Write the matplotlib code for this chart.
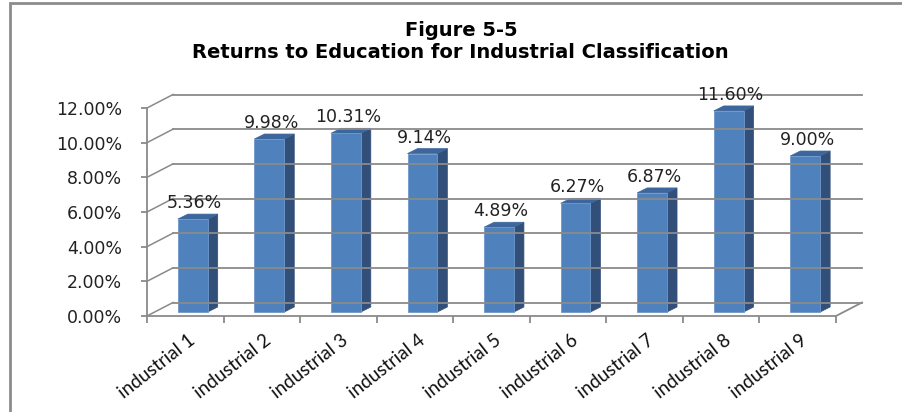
import numpy as np
import matplotlib.pyplot as plt
import matplotlib.transforms as mtransforms
from matplotlib.patches import Polygon, Rectangle
from matplotlib.ticker import FuncFormatter

# --- DATA ---
categories = ["industrial 1", "industrial 2", "industrial 3", "industrial 4", "industrial 5",
              "industrial 6", "industrial 7", "industrial 8", "industrial 9"]
returns = [0.0536, 0.0998, 0.1031, 0.0914, 0.0489, 0.0627, 0.0687, 0.1160, 0.0900]
y_ticks = [0.0, 0.02, 0.04, 0.06, 0.08, 0.10, 0.12]

# --- STYLE ---
front_col = "#4f81bd"
side_col = "#324f79"
top_col = "#3d679c"
grid_col = "#8a8a8a"
W, H, DPI = 902, 412, 100

# floor depth in pixels (back wall offset) and bar placement inside the floor
wall_dx, wall_dy = 26, 13.5
bar_dx, bar_dy = 7.5, 4
bar_depth_x, bar_depth_y = 10, 5
bar_width = 0.39

fig = plt.figure(figsize=(W / DPI, H / DPI), dpi=DPI)
ax = fig.add_axes([147 / W, (H - 316) / H, (836 - 147) / W, (316 - 108) / H])
ax.set_xlim(0, len(categories))
ax.set_ylim(0, 0.12)
ax.patch.set_visible(False)

# outer chart border
fig.patches.append(Rectangle((10 / W, -0.2), 1.2, 1.2 - 3 / H, transform=fig.transFigure,
                             fill=False, edgecolor="#8c8c8c", lw=2))

def px_offset(dx, dy):
    return mtransforms.ScaledTranslation(dx / DPI, dy / DPI, fig.dpi_scale_trans)

back = ax.transData + px_offset(wall_dx, wall_dy)
ident = mtransforms.IdentityTransform()

# back wall gridlines and the connectors to the front axis
n = len(categories)
for yv in y_ticks:
    ax.plot([0, n], [yv, yv], color=grid_col, lw=1.3, transform=back, clip_on=False)
    p0 = ax.transData.transform((0, yv))
    p1 = back.transform((0, yv))
    ax.plot([p0[0], p1[0]], [p0[1], p1[1]], color=grid_col, lw=1.1,
            transform=ident, clip_on=False)

# right edge of the floor
p0 = ax.transData.transform((n, 0))
p1 = back.transform((n, 0))
ax.plot([p0[0], p1[0]], [p0[1], p1[1]], color=grid_col, lw=1.3, transform=ident, clip_on=False)

# --- BARS ---
centers = np.arange(n) + 0.5
for c, v in zip(centers, returns):
    x0, y0 = ax.transData.transform((c - bar_width / 2, 0))
    x1, y1 = ax.transData.transform((c + bar_width / 2, v))
    x0 += bar_dx; x1 += bar_dx; y0 += bar_dy; y1 += bar_dy
    ddx, ddy = bar_depth_x, bar_depth_y
    front = Polygon([(x0, y0), (x1, y0), (x1, y1), (x0, y1)], closed=True,
                    facecolor=front_col, edgecolor="#6f98cc", lw=0.6, transform=ident)
    side = Polygon([(x1, y0), (x1 + ddx, y0 + ddy), (x1 + ddx, y1 + ddy), (x1, y1)], closed=True,
                   facecolor=side_col, edgecolor=side_col, lw=0.5, transform=ident)
    top = Polygon([(x0, y1), (x1, y1), (x1 + ddx, y1 + ddy), (x0 + ddx, y1 + ddy)], closed=True,
                  facecolor=top_col, edgecolor=top_col, lw=0.5, transform=ident)
    for p in (side, top, front):
        p.set_clip_on(False)
        ax.add_artist(p)
    ax.text((x0 + x1) / 2 + 2, y1 + ddy + 2, f"{v * 100:.2f}%", transform=ident,
            ha="center", va="bottom", fontsize=12.5, color="#222222", family="DejaVu Sans")

# --- AXES ---
for s in ("top", "right"):
    ax.spines[s].set_visible(False)
for s in ("left", "bottom"):
    ax.spines[s].set_color(grid_col)
    ax.spines[s].set_linewidth(1.3)

ax.set_yticks(y_ticks)
ax.yaxis.set_major_formatter(FuncFormatter(lambda v, _: f"{v * 100:.2f}%"))
ax.tick_params(axis="y", length=4, width=1.3, color=grid_col, pad=14, labelsize=12.5,
               labelcolor="#222222")

ax.set_xticks(np.arange(n + 1))
ax.set_xticklabels([])
ax.set_xticks(centers + 0.03, minor=True)
ax.set_xticklabels(categories, minor=True, rotation=38, ha="right", rotation_mode="anchor",
                   family="Lato", fontsize=13.5, color="#111111")
ax.tick_params(axis="x", which="major", length=5, width=1.3, color=grid_col, direction="out")
ax.tick_params(axis="x", which="minor", length=0, pad=11)

fig.text(461 / W, 1 - 30 / H, "Figure 5-5", ha="center", va="center",
         fontsize=14, fontweight="bold", family="DejaVu Sans")
fig.text(460 / W, 1 - 53 / H, "Returns to Education for Industrial Classification",
         ha="center", va="center", fontsize=14, fontweight="bold", family="DejaVu Sans")

fig.savefig("out.png", dpi=DPI)
